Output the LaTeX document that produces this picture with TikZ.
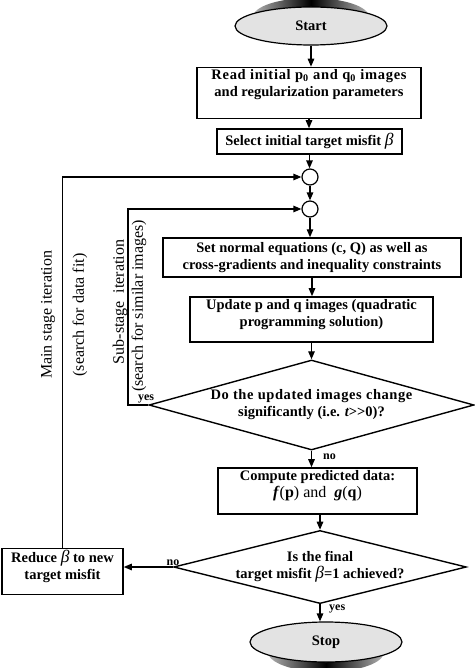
\documentclass[tikz,border=0pt]{standalone}
\usepackage{fontspec}
\setmainfont{Liberation Serif}
\usetikzlibrary{arrows.meta,shapes.geometric,calc}
\newcommand\lowpad[1]{\rule[-#1]{0pt}{#1}}
\newcommand\bet{{\fontsize{17.5}{17}\selectfont\mdseries\itshape β}}
\begin{document}
\begin{tikzpicture}[x=1pt,y=-1pt,
  box/.style={draw, line width=1.5pt, rectangle, align=center, font=\fontsize{14.5}{17}\selectfont\bfseries, inner sep=2pt},
  term/.style={draw, line width=1.2pt, ellipse, fill=gray!22, inner sep=0pt, font=\fontsize{14.5}{17}\selectfont\bfseries},
  dec/.style={draw, line width=1.4pt, diamond, align=center, inner sep=0pt, font=\fontsize{14.5}{17}\selectfont\bfseries},
  junc/.style={draw, line width=1.2pt, circle, fill=white, minimum size=16pt, inner sep=0pt},
  arr/.style={line width=1.3pt, -{Triangle[length=8pt,width=6.5pt]}},
  side/.style={font=\fontsize{16}{18}\selectfont, rotate=90, inner sep=0pt},
  tag/.style={font=\fontsize{12}{13}\selectfont\bfseries, inner sep=1pt}]
\useasboundingbox (0,0) rectangle (474,668);

% shadows of terminals
\shade[left color=gray!60, right color=gray!60, middle color=black] (311,17) ellipse [x radius=58pt, y radius=19pt];
\shade[left color=gray!60, right color=gray!60, middle color=black] (326,652) ellipse [x radius=58pt, y radius=20pt];

\node[term, minimum width=152pt, minimum height=38pt] (start) at (311,26) {Start};
\node[box, minimum width=224pt, minimum height=50pt] (read) at (309,93)
  {\addfontfeature{LetterSpace=5}Read initial p\textsubscript{0} and q\textsubscript{0} images\\and regularization parameters\lowpad{20pt}};
\node[box, minimum width=185pt, minimum height=25pt] (select) at (309.5,141.5)
  {Select initial target misfit \bet};
\node[junc] (c1) at (310,177) {};
\node[junc] (c2) at (310,209) {};
\node[box, minimum width=298pt, minimum height=39pt] (set) at (312,257.5)
  {Set normal equations (c, Q) as well as\\cross-gradients and inequality constraints};
\node[box, minimum width=243pt, minimum height=45pt] (upd) at (311.5,319.5)
  {Update p and q images (quadratic\\programming solution)\lowpad{14pt}};
\node[dec, minimum width=325pt, minimum height=90pt, aspect=3.6] (d1) at (311.5,405)
  {\addfontfeature{LetterSpace=4}Do the updated images change\\significantly (i.e. {\itshape t}>{}>0)?};
\node[box, minimum width=199pt, minimum height=46pt] (comp) at (317.5,491)
  {Compute predicted data:\\{\fontsize{16}{18}\selectfont\mdseries\textbf{\textit{f}}(\textbf{p}) and \ \textbf{\textit{g}}(\textbf{q})}\lowpad{15pt}};
\node[dec, minimum width=280pt, minimum height=70pt, aspect=4] (d2) at (320,567)
  {Is the final\\target misfit \bet=1 achieved?};
\node[term, minimum width=152pt, minimum height=40pt] (stop) at (326,642) {Stop};
\node[box, minimum width=121pt, minimum height=43pt] (reduce) at (62.5,571.5)
  {Reduce \bet\ to new\\target misfit\lowpad{13pt}};

\coordinate (subx) at (128,0);

% main flow
\draw[arr] (start.south) -- (start.south |- read.north);
\draw[arr] (read.south) -- (read.south |- select.north);
\draw[arr] (select.south) -- (select.south |- c1.north);
\draw[arr] (c1) -- (c2);
\draw[arr] (c2.south) -- (c2.south |- set.north);
\draw[arr] (set.south) -- (set.south |- upd.north);
\draw[arr] (upd.south) -- (upd.south |- d1.north);
\draw[arr] (d1.south) -- (d1.south |- comp.north);
\draw[arr] (d2.north |- comp.south) -- (d2.north);
\draw[arr] (d2.south) -- (d2.south |- stop.north);
\draw[arr] (d2.west) -- (d2.west -| reduce.east);

% loops
\draw[arr] (reduce.north) |- (c1.west);
\draw[arr] (d1.west) -- (d1.west -| subx) |- (c2.west);

% labels
\node[tag, anchor=south] (lyes1) at (146,404) {yes};
\node[tag, anchor=west] (lno1) at (322,457) {no};
\node[tag, anchor=south] (lno2) at (173,567) {no};
\node[tag, anchor=west] (lyes2) at (328,609) {yes};

\node[side] (mainlab) at (48,315) {Main stage iteration};
\node[side] (mainsub) at (80,315) {(search for data fit)};
\node[side] (sublab) at (120,302) {Sub-stage\ \ iteration};
\node[side] (subsub) at (139,306) {(search for similar images)};
\end{tikzpicture}
\end{document}
